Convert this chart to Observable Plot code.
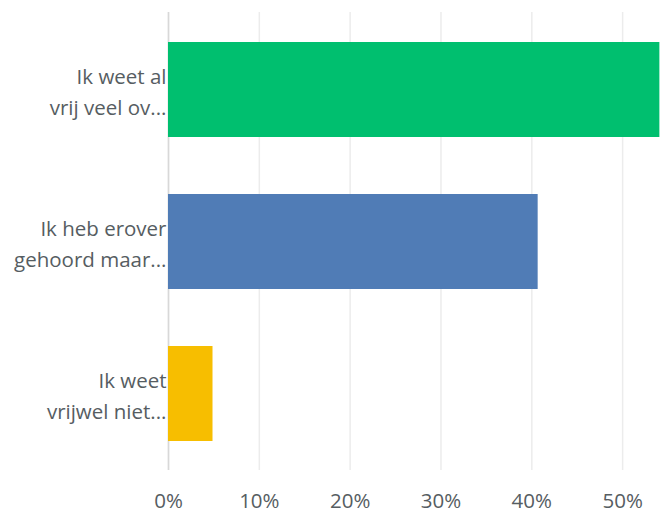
<!DOCTYPE html>
<html>
<head>
<meta charset="utf-8">
<script src="https://cdn.jsdelivr.net/npm/d3@7"></script>
<script src="https://cdn.jsdelivr.net/npm/@observablehq/plot@0.6"></script>
<style>
  html, body { margin: 0; padding: 0; background: #fff; }
  #chart { width: 663px; height: 514px; overflow: hidden; }
</style>
</head>
<body>
<div id="chart"></div>
<script>
const categories = ["Ik weet al\nvrij veel ov...", "Ik heb erover\ngehoord maar...", "Ik weet\nvrijwel niet..."];
const values = [54.1, 40.7, 4.9];
const colors = ["#00bf6f", "#507cb6", "#f7be00"];
const xTicks = [0, 10, 20, 30, 40, 50];

const data = categories.map((c, i) => ({label: c, value: values[i]}));

const chart = Plot.plot({
  width: 663,
  height: 514,
  marginLeft: 168,
  marginRight: 0,
  marginTop: 12,
  marginBottom: 44,
  style: {fontFamily: "'Open Sans', sans-serif", fontSize: "20px", color: "#565d62", background: "#fff"},
  x: {domain: [0, 54.5], ticks: xTicks},
  y: {domain: categories, paddingInner: 0.377, paddingOuter: 0.19},
  color: {domain: categories, range: colors},
  marks: [
    Plot.gridX(xTicks, {stroke: "#ececec", strokeOpacity: 1, strokeWidth: 1.5}),
    Plot.ruleX([0], {stroke: "#d8d8d8", strokeWidth: 1.5}),
    Plot.barX(data, {x: "value", y: "label", fill: "label"}),
    Plot.ruleY([0], {frameAnchor: "bottom", stroke: "#d4d4d4", strokeWidth: 2}),
    Plot.axisX(xTicks, {tickSize: 0, tickPadding: 23, tickFormat: d => d + "%", label: null, fontSize: 20.5, fill: "#565d62"}),
    Plot.axisY({tickSize: 0, tickPadding: 2, label: null, fontSize: 20.5, lineHeight: 1.5, fill: "#565d62"})
  ]
});
document.getElementById("chart").appendChild(chart);
</script>
</body>
</html>
